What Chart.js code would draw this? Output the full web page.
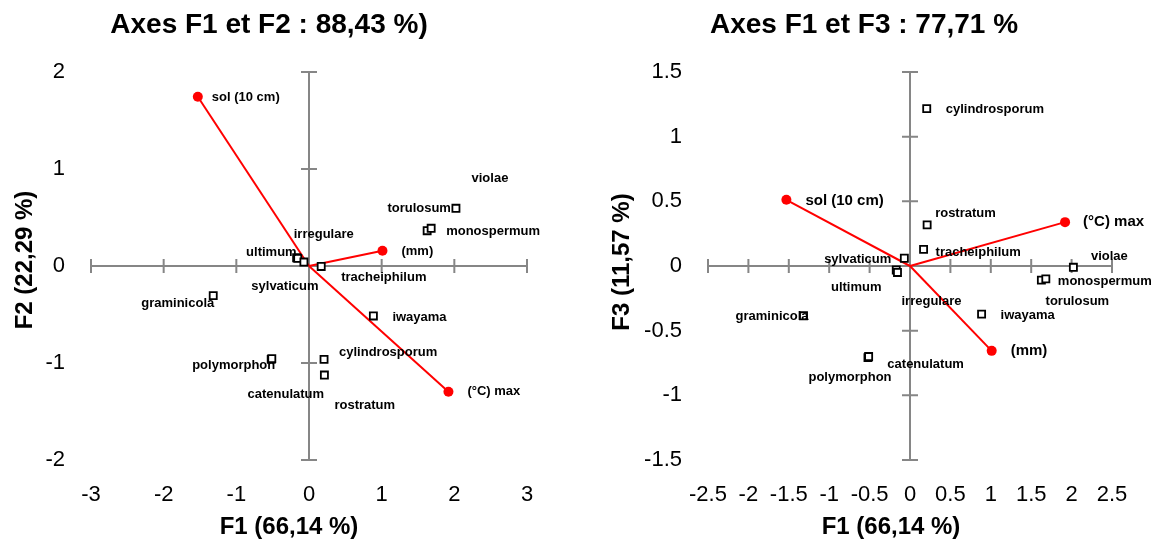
<!DOCTYPE html>
<html>
<head>
<meta charset="utf-8">
<script src="https://cdn.jsdelivr.net/npm/chart.js@4.4.1/dist/chart.umd.min.js"></script>
<style>
  html, body { margin: 0; padding: 0; background: #fff; }
  body { width: 1157px; height: 545px; position: relative; overflow: hidden; }
  .wrap { position: absolute; top: 0; height: 545px; }
  #w1 { left: 0; width: 556px; }
  #w2 { left: 600px; width: 557px; }
</style>
</head>
<body>
<div class="wrap" id="w1"><canvas id="c1" width="556" height="545"></canvas></div>
<div class="wrap" id="w2"><canvas id="c2" width="557" height="545"></canvas></div>
<script>
// ---------- DATA ----------
const species = ['ultimum', 'irregulare', 'sylvaticum', 'tracheiphilum', 'graminicola', 'polymorphon',
  'catenulatum', 'rostratum', 'cylindrosporum', 'iwayama', 'violae', 'torulosum', 'monospermum'];
const speciesF1 = [-0.17, -0.155, -0.07, 0.168, -1.318, -0.52, -0.512, 0.212, 0.207, 0.886, 2.022, 1.626, 1.681];
const speciesF2 = [0.085, 0.078, 0.041, -0.005, -0.306, -0.962, -0.955, -1.124, -0.962, -0.515, 0.595, 0.364, 0.389];
const speciesF3 = [-0.031, -0.05, 0.06, 0.129, -0.385, -0.708, -0.70, 0.318, 1.217, -0.372, -0.01, -0.109, -0.10];

const variables = ['sol (10 cm)', '(mm)', '(°C) max'];
const variablesF1 = [-1.53, 1.011, 1.919];
const variablesF2 = [1.745, 0.158, -1.296];
const variablesF3 = [0.512, -0.656, 0.339];

const xTicksA = [-3, -2, -1, 0, 1, 2, 3];
const yTicksA = [-2, -1, 0, 1, 2];
const xTicksB = [-2.5, -2, -1.5, -1, -0.5, 0, 0.5, 1, 1.5, 2, 2.5];
const yTicksB = [-1.5, -1, -0.5, 0, 0.5, 1, 1.5];

const titleA = 'Axes F1 et F2 : 88,43 %)';
const titleB = 'Axes F1 et F3 : 77,71 %';
const xTitle = 'F1 (66,14 %)';
const yTitleA = 'F2 (22,29 %)';
const yTitleB = 'F3 (11,57 %)';

// ---------- LABEL PLACEMENT (align, dx, dy in px) ----------
const placeA = {
  'sol (10 cm)': ['left', 14, 1], '(mm)': ['left', 19, 1], '(°C) max': ['left', 19, 0],
  'ultimum': ['right', 0, -5], 'irregulare': ['left', -4, -24], 'sylvaticum': ['center', -19, 24],
  'tracheiphilum': ['left', 20, 11], 'graminicola': ['right', 1, 8], 'polymorphon': ['right', 4, 6],
  'catenulatum': ['center', 14, 36], 'rostratum': ['left', 10, 30], 'cylindrosporum': ['left', 15, -7],
  'iwayama': ['left', 19, 1], 'violae': ['center', 34, -30], 'torulosum': ['center', -8, -22],
  'monospermum': ['left', 15, 3]
};
const placeB = {
  'sol (10 cm)': ['left', 19, 1], '(mm)': ['left', 19, 0], '(°C) max': ['left', 18, 0],
  'cylindrosporum': ['left', 19, 1], 'rostratum': ['left', 8, -11], 'tracheiphilum': ['left', 12, 3],
  'sylvaticum': ['right', -13, 1], 'ultimum': ['center', -40, 17], 'irregulare': ['center', 34, 29],
  'graminicola': ['right', 5, 1], 'polymorphon': ['center', -18, 20], 'catenulatum': ['center', 57, 8],
  'iwayama': ['left', 19, 1], 'violae': ['center', 36, -11], 'torulosum': ['center', 36, 21],
  'monospermum': ['left', 12, 2]
};

const FONT = "'Liberation Sans', Arial, Helvetica, sans-serif";

// ---------- PLUGINS ----------
const crossAxes = {
  id: 'crossAxes',
  beforeDatasetsDraw(chart) {
    const { ctx } = chart;
    const x = chart.scales.x, y = chart.scales.y;
    const x0 = x.getPixelForValue(0), y0 = y.getPixelForValue(0);
    ctx.save();
    ctx.strokeStyle = '#868686';
    ctx.lineWidth = 2;
    ctx.beginPath();
    ctx.moveTo(x.getPixelForValue(x.min), y0);
    ctx.lineTo(x.getPixelForValue(x.max), y0);
    ctx.moveTo(x0, y.getPixelForValue(y.min));
    ctx.lineTo(x0, y.getPixelForValue(y.max));
    x.ticks.forEach(t => {
      const px = x.getPixelForValue(t.value);
      ctx.moveTo(px, y0 - 7); ctx.lineTo(px, y0 + 7);
    });
    y.ticks.forEach(t => {
      const py = y.getPixelForValue(t.value);
      ctx.moveTo(x0 - 8, py); ctx.lineTo(x0 + 8, py);
    });
    ctx.stroke();
    ctx.restore();
  }
};

const pointLabels = {
  id: 'pointLabels',
  afterDatasetsDraw(chart, args, opts) {
    const ctx = chart.ctx;
    ctx.save();
    ctx.fillStyle = '#000';
    ctx.textBaseline = 'middle';
    chart.data.datasets.forEach((ds, di) => {
      if (!ds.labels) return;
      const meta = chart.getDatasetMeta(di);
      ds.labels.forEach((txt, i) => {
        if (txt == null) return;
        const el = meta.data[i];
        const p = opts.place[txt];
        ctx.font = 'bold ' + ds.labelSize + 'px ' + FONT;
        ctx.textAlign = p[0];
        ctx.fillText(txt, el.x + p[1], el.y + p[2]);
      });
    });
    ctx.restore();
  }
};

const axisTitles = {
  id: 'axisTitles',
  afterDraw(chart, args, opts) {
    const ctx = chart.ctx;
    ctx.save();
    ctx.fillStyle = '#000';
    ctx.font = 'bold 24px ' + FONT;
    ctx.textAlign = 'center';
    ctx.textBaseline = 'middle';
    ctx.fillText(opts.x.text, opts.x.cx, opts.x.cy);
    ctx.translate(opts.y.cx, opts.y.cy);
    ctx.rotate(-Math.PI / 2);
    ctx.fillText(opts.y.text, 0, 0);
    ctx.restore();
  }
};

function makeChart(canvasId, cfg) {
  const datasets = [];
  datasets.push({
    data: species.map((s, i) => ({ x: speciesF1[i], y: cfg.sy[i] })),
    labels: species,
    labelSize: 13,
    pointStyle: 'rect',
    pointRadius: 5,
    pointBorderWidth: 1.8,
    pointBorderColor: '#000',
    pointBackgroundColor: '#fff',
    showLine: false,
    order: 0,
    clip: false
  });
  variables.forEach((v, i) => {
    datasets.push({
      data: [{ x: 0, y: 0 }, { x: variablesF1[i], y: cfg.vy[i] }],
      labels: [null, v],
      labelSize: cfg.varSize,
      showLine: true,
      borderColor: '#ff0000',
      borderWidth: 2,
      pointRadius: [0, 5],
      pointBackgroundColor: '#ff0000',
      pointBorderWidth: 0,
      order: 1,
      clip: false
    });
  });
  const tickFont = { family: FONT, size: 22 };
  return new Chart(document.getElementById(canvasId), {
    type: 'scatter',
    data: { datasets },
    options: {
      responsive: false,
      animation: false,
      events: [],
      layout: { padding: { left: cfg.padL, right: cfg.padR, top: 0, bottom: 0 } },
      plugins: {
        legend: { display: false },
        tooltip: { enabled: false },
        title: {
          display: true,
          text: cfg.title,
          color: '#000',
          font: { family: FONT, size: 28, weight: 'bold' },
          padding: { top: 8, bottom: 30.4 }
        },
        pointLabels: { place: cfg.place },
        axisTitles: cfg.axisTitles
      },
      scales: {
        x: {
          type: 'linear',
          min: cfg.xTicks[0], max: cfg.xTicks[cfg.xTicks.length - 1],
          grid: { display: false, drawTicks: false },
          border: { display: false },
          afterBuildTicks: s => { s.ticks = cfg.xTicks.map(v => ({ value: v })); },
          afterFit: s => { s.height = 85; },
          ticks: {
            autoSkip: false, maxRotation: 0, minRotation: 0,
            color: '#000', font: tickFont, padding: 22,
            callback: v => String(v)
          }
        },
        y: {
          type: 'linear',
          min: cfg.yTicks[0], max: cfg.yTicks[cfg.yTicks.length - 1],
          grid: { display: false, drawTicks: false },
          border: { display: false },
          afterBuildTicks: s => { s.ticks = cfg.yTicks.map(v => ({ value: v })); },
          afterFit: s => { s.width = cfg.yWidth; },
          ticks: {
            autoSkip: false,
            color: '#000', font: tickFont, padding: 26,
            callback: v => String(v)
          }
        }
      }
    },
    plugins: [crossAxes, pointLabels, axisTitles]
  });
}

makeChart('c1', {
  sy: speciesF2, vy: variablesF2, varSize: 13, title: titleA, place: placeA,
  xTicks: xTicksA, yTicks: yTicksA, padL: 11, padR: 29, yWidth: 80,
  axisTitles: { x: { text: xTitle, cx: 289, cy: 527 }, y: { text: yTitleA, cx: 25, cy: 260 } }
});
makeChart('c2', {
  sy: speciesF3, vy: variablesF3, varSize: 15, title: titleB, place: placeB,
  xTicks: xTicksB, yTicks: yTicksB, padL: 16, padR: 45, yWidth: 92,
  axisTitles: { x: { text: xTitle, cx: 291, cy: 527 }, y: { text: yTitleB, cx: 22, cy: 262 } }
});
</script>
</body>
</html>
